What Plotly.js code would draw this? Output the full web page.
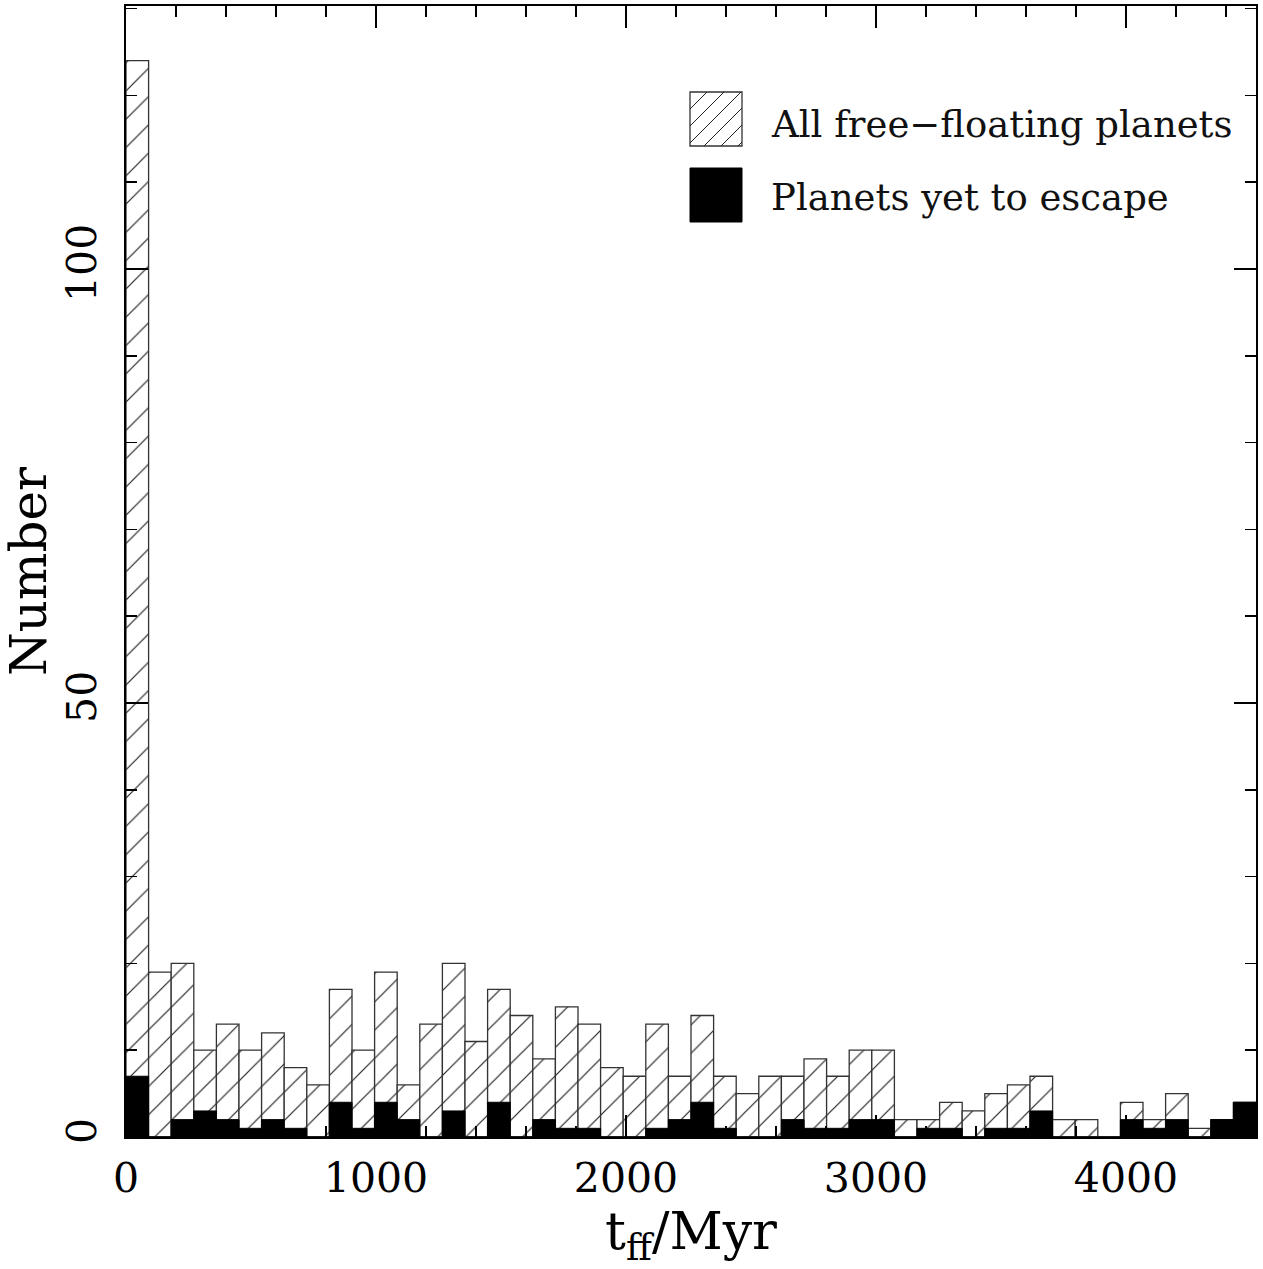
<!DOCTYPE html>
<html>
<head>
<meta charset="utf-8">
<script src="https://cdn.plot.ly/plotly-3.0.1.min.js"></script>
<style>html,body{margin:0;padding:0;background:#fff;}#plot{width:1263px;height:1269px;}</style>
</head>
<body>
<div id="plot"></div>
<script>
// Histogram of free-floating times, 50 bins over 0..4520 Myr
const binWidth = 90.4;
const allCounts = [124,19,20,10,13,10,12,8,6,17,10,19,6,13,20,11,17,14,9,15,13,8,7,13,7,14,7,5,7,7,9,7,10,10,2,2,4,3,5,6,7,2,2,0,4,2,5,1,2,4];
const yetToEscape = [7,0,2,3,2,1,2,1,0,4,1,4,2,0,3,0,4,0,2,1,1,0,0,1,2,4,1,0,0,2,1,1,2,2,0,1,1,0,1,1,3,0,0,0,2,1,2,0,2,4];
const legendLabels = ["All free\u2212floating planets", "Planets yet to escape"];
const xTickVals = [0,1000,2000,3000,4000];
const yTickVals = [0,50,100];

const centers = allCounts.map((_, i) => (i + 0.5) * binWidth);
const FONT = "DejaVu Serif";

const traces = [
  {
    type: 'bar', x: centers, y: allCounts, width: binWidth,
    marker: {color: 'white', line: {color: '#333', width: 1.3},
      pattern: {shape: '/', size: 20, solidity: 0.06, fgcolor: '#222', bgcolor: 'white', fgopacity: 1}},
    showlegend: false, hoverinfo: 'skip'
  },
  {
    type: 'bar', x: centers, y: yetToEscape, width: binWidth,
    marker: {color: 'black', line: {color: 'black', width: 1}},
    showlegend: false, hoverinfo: 'skip'
  }
];

// legend drawn in pixel positions (converted to paper coords)
const L = 126, R = 1256, T = 6, B = 1137;
const px = x => (x - L) / (R - L);
const py = y => (B - y) / (B - T);
function hatchPath(x0, y0, x1, y1, step) {
  let d = '';
  for (let c = x0 + y0 + step; c < x1 + y1; c += step) {
    let xa = Math.max(x0, c - y1), xb = Math.min(x1, c - y0);
    if (xb <= xa) continue;
    d += 'M' + px(xa) + ',' + py(c - xa) + 'L' + px(xb) + ',' + py(c - xb);
  }
  return d;
}
const shapes = [
  {type: 'rect', xref: 'paper', yref: 'paper', x0: px(690), x1: px(742), y0: py(146), y1: py(92),
   line: {color: '#333', width: 1.3}, fillcolor: 'white'},
  {type: 'path', xref: 'paper', yref: 'paper', path: hatchPath(690, 92, 742, 146, 17),
   line: {color: '#222', width: 1}},
  {type: 'rect', xref: 'paper', yref: 'paper', x0: px(690), x1: px(742), y0: py(222), y1: py(168),
   line: {color: 'black', width: 1}, fillcolor: 'black'}
];
const annotations = [
  {xref: 'paper', yref: 'paper', x: px(769), y: py(124), xanchor: 'left', yanchor: 'middle',
   text: legendLabels[0], showarrow: false, font: {family: FONT, size: 37, color: '#111'}},
  {xref: 'paper', yref: 'paper', x: px(769), y: py(198), xanchor: 'left', yanchor: 'middle',
   text: legendLabels[1], showarrow: false, font: {family: FONT, size: 37, color: '#111'}}
];

const layout = {
  width: 1263, height: 1269,
  margin: {l: L, r: 1263 - R, t: T, b: 1269 - B},
  paper_bgcolor: 'white', plot_bgcolor: 'white',
  barmode: 'overlay', bargap: 0,
  showlegend: false,
  font: {family: FONT, color: 'black'},
  xaxis: {
    range: [0, 50 * binWidth], tickvals: xTickVals, ticktext: xTickVals.map(String),
    ticks: 'inside', ticklen: 22, tickwidth: 1.5, tickcolor: 'black',
    showline: true, linecolor: 'black', linewidth: 2, mirror: 'ticks',
    showgrid: false, zeroline: false,
    minor: {dtick: 200, tick0: 0, ticks: 'inside', ticklen: 11, tickwidth: 1.5, tickcolor: 'black', showgrid: false},
    tickfont: {family: FONT, size: 41, color: 'black'},
    ticklabelstandoff: 4,
    title: {text: 't<sub>ff</sub>/Myr', font: {family: FONT, size: 52, color: 'black'}, standoff: 4}
  },
  yaxis: {
    range: [0, 130.3], tickvals: yTickVals, ticktext: yTickVals.map(String),
    ticks: 'inside', ticklen: 22, tickwidth: 1.5, tickcolor: 'black',
    showline: true, linecolor: 'black', linewidth: 2, mirror: 'ticks',
    showgrid: false, zeroline: false, tickangle: -90,
    minor: {dtick: 10, tick0: 0, ticks: 'inside', ticklen: 11, tickwidth: 1.5, tickcolor: 'black', showgrid: false},
    tickfont: {family: FONT, size: 41, color: 'black'},
    ticklabelstandoff: 12,
    title: {text: 'Number', font: {family: FONT, size: 50, color: 'black'}, standoff: 6}
  },
  shapes: shapes,
  annotations: annotations
};

Plotly.newPlot('plot', traces, layout, {staticPlot: true, displayModeBar: false});
</script>
</body>
</html>
